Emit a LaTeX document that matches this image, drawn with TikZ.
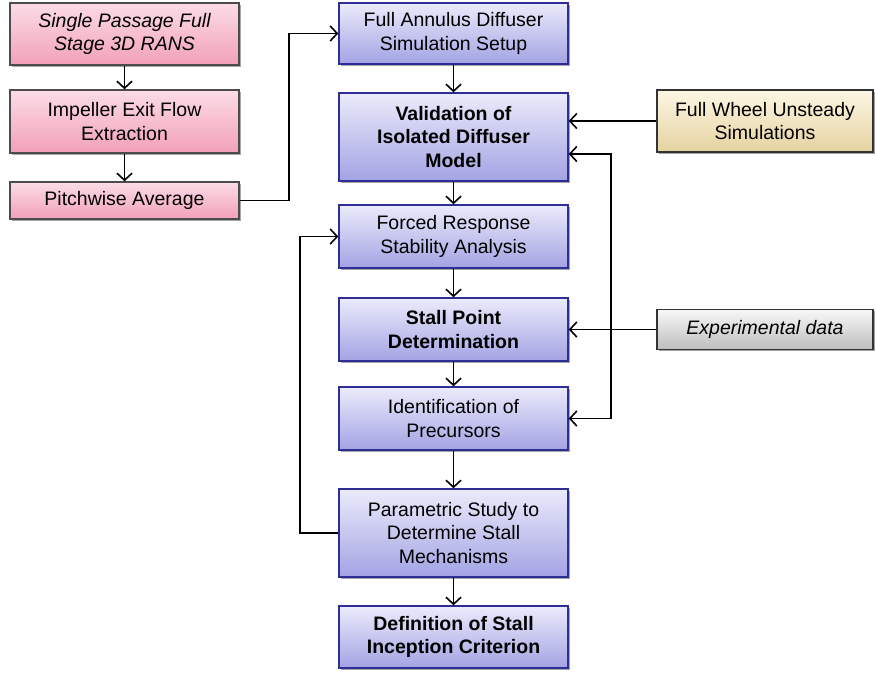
\documentclass[tikz,border=0pt]{standalone}
\usepackage{fontspec}
\setmainfont{Liberation Sans}
\usetikzlibrary{arrows.meta,shadows,calc}
\definecolor{pinkT}{HTML}{FCDCE6}
\definecolor{pinkB}{HTML}{F2A0B9}
\definecolor{blueT}{HTML}{EBEBFB}
\definecolor{blueB}{HTML}{A3A3E4}
\definecolor{blueD}{HTML}{2E2E96}
\definecolor{tanT}{HTML}{FDF7E4}
\definecolor{tanB}{HTML}{E5D2A0}
\definecolor{greyT}{HTML}{F8F8F8}
\definecolor{greyB}{HTML}{BDBDBD}
\begin{document}
\begin{tikzpicture}[x=1pt,y=-1pt,
  box/.style={draw, line width=1.4pt, align=center, inner sep=0pt,
    font=\fontsize{19.5}{23.5}\selectfont,
    drop shadow={shadow xshift=1.5pt, shadow yshift=-1.5pt, opacity=0.35, fill=black}},
  pinkbox/.style={box, draw=black!70, top color=pinkT, bottom color=pinkB, minimum width=229pt},
  bluebox/.style={box, draw=blueD, top color=blueT, bottom color=blueB, minimum width=229pt},
  tanbox/.style={box, draw=black!80, top color=tanT, bottom color=tanB, minimum width=216pt},
  greybox/.style={box, draw=black!80, top color=greyT, bottom color=greyB, minimum width=216pt},
  tip/.tip={Straight Barb[length=7pt,width=15pt,line width=1.6pt]},
  arr/.style={-tip, line width=1.8pt},
  arrboth/.style={tip-tip, line width=1.8pt}]
\useasboundingbox (0,0) rectangle (875,672);

\node[pinkbox, minimum height=62pt] (p1) at (124.5,34) {\itshape Single Passage Full\\\itshape Stage 3D RANS};
\node[pinkbox, minimum height=63pt] (p2) at (124.5,121.5) {Impeller Exit Flow\\Extraction};
\node[pinkbox, minimum height=37pt] (p3) at (124.5,200.5) {Pitchwise Average};

\node[bluebox, minimum height=61pt] (b1) at (453.5,33.5) {Full Annulus Diffuser\\Simulation Setup};
\node[bluebox, minimum height=88pt] (b2) at (453.5,137) {\bfseries Validation of\\\bfseries Isolated Diffuser\\\bfseries Model};
\node[bluebox, minimum height=63pt] (b3) at (453.5,236.5) {Forced Response\\Stability Analysis};
\node[bluebox, minimum height=63pt] (b4) at (453.5,329.5) {\bfseries Stall Point\\\bfseries Determination};
\node[bluebox, minimum height=63pt] (b5) at (453.5,418.5) {Identification of\\Precursors};
\node[bluebox, minimum height=88pt] (b6) at (453.5,533) {Parametric Study to\\Determine Stall\\Mechanisms};
\node[bluebox, minimum height=62pt] (b7) at (453.5,637) {\bfseries Definition of Stall\\\bfseries Inception Criterion};

\node[tanbox, minimum height=62pt] (fw) at (765,121) {Full Wheel Unsteady\\Simulations};
\node[greybox, minimum height=40pt] (ed) at (765,329.5) {\itshape Experimental data};

\draw[arr] (p1) -- (p2);
\draw[arr] (p2) -- (p3);
\draw[arr] (p3.east) -- ++(49,0) |- (b1.west);
\draw[arr] (b1) -- (b2);
\draw[arr] (b2) -- (b3);
\draw[arr] (b3) -- (b4);
\draw[arr] (b4) -- (b5);
\draw[arr] (b5) -- (b6);
\draw[arr] (b6) -- (b7);
\draw[arr] (fw.west) -- (fw.west -| b2.east);
\draw[arr] (ed.west) -- (ed.west -| b4.east);
\coordinate (rt) at ($(b2.east)+(42,17)$);
\draw[arrboth] ($(b2.east)+(0,17)$) -- (rt) |- (b5.east);
\draw[arr] (b6.west) -- ++(-38,0) |- (b3.west);
\end{tikzpicture}
\end{document}
